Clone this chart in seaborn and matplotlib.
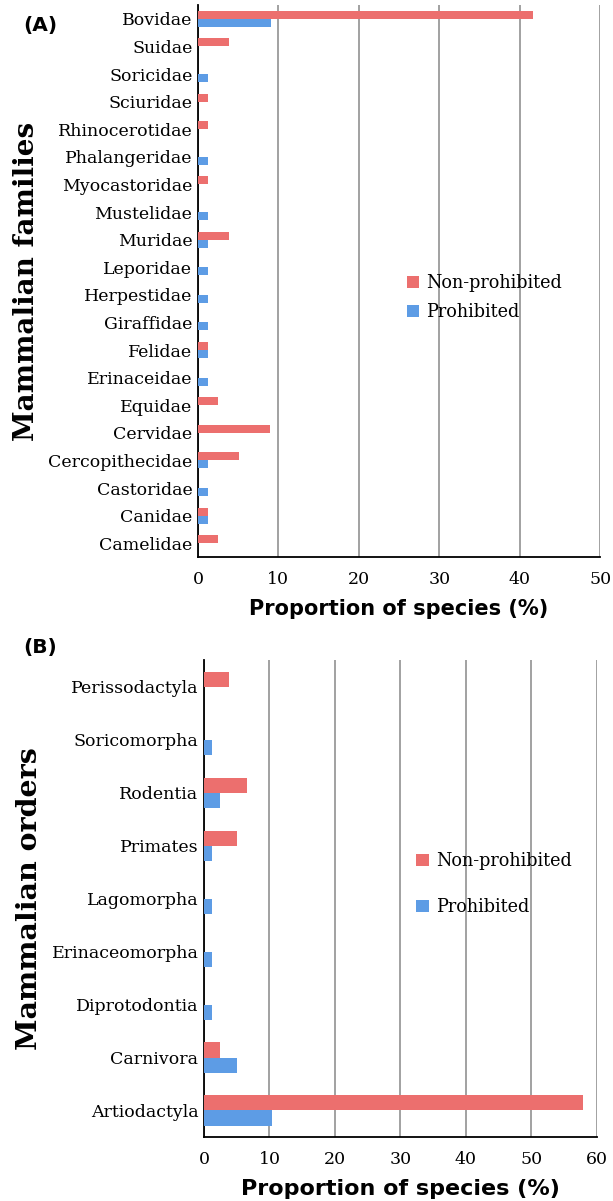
import matplotlib
matplotlib.use("Agg")
import matplotlib.pyplot as plt
import seaborn as sns
import pandas as pd

# panel A: families, listed top to bottom
families = ['Bovidae', 'Suidae', 'Soricidae', 'Sciuridae', 'Rhinocerotidae',
            'Phalangeridae', 'Myocastoridae', 'Mustelidae', 'Muridae', 'Leporidae',
            'Herpestidae', 'Giraffidae', 'Felidae', 'Erinaceidae', 'Equidae',
            'Cervidae', 'Cercopithecidae', 'Castoridae', 'Canidae', 'Camelidae']
fam_nonprohib = [41.7, 3.8, 0, 1.2, 1.2, 0, 1.2, 0, 3.8, 0,
                 0, 0, 1.2, 0, 2.5, 9.0, 5.1, 0, 1.2, 2.5]
fam_prohib = [9.1, 0, 1.2, 0, 0, 1.2, 0, 1.2, 1.2, 1.2,
              1.2, 1.2, 1.2, 1.2, 0, 0, 1.2, 1.2, 1.2, 0]

# panel B: orders, listed top to bottom
orders = ['Perissodactyla', 'Soricomorpha', 'Rodentia', 'Primates', 'Lagomorpha',
          'Erinaceomorpha', 'Diprotodontia', 'Carnivora', 'Artiodactyla']
ord_nonprohib = [3.8, 0, 6.5, 5.1, 0, 0, 0, 2.5, 57.9]
ord_prohib = [0, 1.2, 2.5, 1.2, 1.2, 1.2, 1.2, 5.1, 10.4]

groups = ['Non-prohibited', 'Prohibited']
palette = {'Non-prohibited': '#EC6F6E', 'Prohibited': '#5D9CE5'}

SERIF = 'DejaVu Serif'
SANS = 'DejaVu Sans'


def long_df(cats, a, b):
    rows = []
    for c, v1, v2 in zip(cats, a, b):
        rows.append({'cat': c, 'group': groups[0], 'val': v1})
        rows.append({'cat': c, 'group': groups[1], 'val': v2})
    return pd.DataFrame(rows)


def draw(ax, df, cats, width, xmax, ylabel, ylsize, xlsize, leg_anchor, leg_space):
    sns.barplot(data=df, y='cat', x='val', hue='group', order=cats,
                hue_order=groups, palette=palette, orient='h', width=width,
                saturation=1, linewidth=0, edgecolor='none', ax=ax, zorder=3)
    ax.set_xlim(0, xmax)
    ax.set_xticks(range(0, xmax + 1, 10))
    ax.xaxis.grid(True, color='#9a9a9a', linewidth=1.3, zorder=0)
    ax.yaxis.grid(False)
    ax.set_axisbelow(True)
    for s in ['top', 'right']:
        ax.spines[s].set_visible(False)
    for s in ['left', 'bottom']:
        ax.spines[s].set_color('black')
        ax.spines[s].set_linewidth(1.3)
    ax.tick_params(axis='y', length=0, pad=4)
    ax.tick_params(axis='x', length=5, width=1.2, color='black', pad=5)
    for lab in ax.get_yticklabels() + ax.get_xticklabels():
        lab.set_family(SERIF)
        lab.set_fontsize(12.5)
    ax.set_ylabel(ylabel, family=SERIF, fontsize=ylsize, fontweight='bold', labelpad=6)
    ax.set_xlabel('Proportion of species (%)', family=SANS, fontsize=xlsize,
                  fontweight='bold', labelpad=8)
    ax.legend(loc='center left', bbox_to_anchor=leg_anchor, frameon=False,
              prop={'family': SERIF, 'size': 12.7}, handlelength=0.7,
              handleheight=0.7, handletextpad=0.4, labelspacing=leg_space)
    return ax


sns.set_style('white')
plt.rcParams.update({'text.color': 'black', 'axes.labelcolor': 'black',
                     'xtick.color': 'black', 'ytick.color': 'black'})
fig = plt.figure(figsize=(6.13, 12.01), dpi=100)

ax1 = fig.add_axes([0.323, 0.5362, 0.656, 0.4596])
draw(ax1, long_df(families, fam_nonprohib, fam_prohib), families, 0.58, 50,
     'Mammalian families', 20, 15, (0.48, 0.47), 0.6)
fig.text(0.0375, 1 - 26 / 1201, '(A)', family=SANS, fontsize=14.5,
         fontweight='bold', va='center')

ax2 = fig.add_axes([0.3328, 0.0533, 0.641, 0.397])
draw(ax2, long_df(orders, ord_nonprohib, ord_prohib), orders, 0.57, 60,
     'Mammalian orders', 20.5, 16, (0.50, 0.53), 1.6)
fig.text(0.0375, 1 - 648 / 1201, '(B)', family=SANS, fontsize=14.5,
         fontweight='bold', va='center')

fig.savefig('out.png', dpi=100)
